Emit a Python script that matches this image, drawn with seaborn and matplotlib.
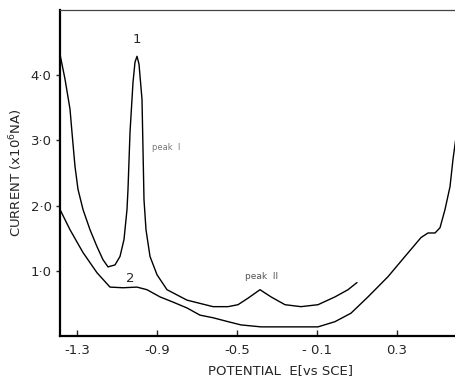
import matplotlib
matplotlib.use("Agg")
import matplotlib.pyplot as plt
import seaborn as sns
import pandas as pd

# Curve 1 (upper trace)
E1 = [-1.385, -1.36, -1.335, -1.325, -1.31, -1.295, -1.27, -1.235, -1.2, -1.17,
      -1.145, -1.11, -1.085, -1.065, -1.05, -1.045, -1.035, -1.02, -1.01, -1.0,
      -0.99, -0.975, -0.97, -0.965, -0.955, -0.935, -0.9, -0.85, -0.75, -0.62,
      -0.545, -0.495, -0.445, -0.385, -0.33, -0.26, -0.18, -0.095, -0.01, 0.055, 0.1]
I1 = [4.32, 3.94, 3.48, 3.12, 2.6, 2.25, 1.94, 1.63, 1.37, 1.17,
      1.06, 1.09, 1.22, 1.48, 1.94, 2.25, 3.12, 3.89, 4.2, 4.29,
      4.17, 3.63, 2.86, 2.09, 1.63, 1.22, 0.94, 0.71, 0.55, 0.45,
      0.45, 0.48, 0.58, 0.71, 0.6, 0.48, 0.45, 0.48, 0.6, 0.71, 0.82]

# Curve 2 (lower trace)
E2 = [-1.385, -1.335, -1.27, -1.2, -1.135, -1.07, -1.0, -0.95, -0.885, -0.82,
      -0.75, -0.685, -0.62, -0.545, -0.48, -0.38, -0.21, -0.095, -0.01, 0.07,
      0.155, 0.255, 0.34, 0.42, 0.455, 0.49, 0.515, 0.54, 0.565, 0.58, 0.595]
I2 = [1.94, 1.63, 1.28, 0.97, 0.75, 0.74, 0.75, 0.71, 0.6, 0.52,
      0.43, 0.32, 0.28, 0.22, 0.17, 0.14, 0.14, 0.14, 0.22, 0.35,
      0.6, 0.91, 1.22, 1.51, 1.58, 1.58, 1.66, 1.94, 2.29, 2.71, 3.05]

x_ticks = [-1.3, -0.9, -0.5, -0.1, 0.3]
x_tick_labels = ["-1.3", "-0.9", "-0.5", "- 0.1", "0.3"]
y_ticks = [1.0, 2.0, 3.0, 4.0]
y_tick_labels = ["1·0", "2·0", "3·0", "4·0"]

sns.set_style("ticks")
plt.rcParams['font.family'] = ['DejaVu Sans']

df1 = pd.DataFrame({"E": E1, "I": I1})
df2 = pd.DataFrame({"E": E2, "I": I2})

fig = plt.figure(figsize=(4.56, 3.83), dpi=100)
ax = fig.add_axes([60/456, 47/383, 396/456, 326/383])

sns.lineplot(data=df1, x="E", y="I", ax=ax, color="black", lw=1.0, sort=False, estimator=None)
sns.lineplot(data=df2, x="E", y="I", ax=ax, color="black", lw=1.0, sort=False, estimator=None)

ax.set_xlim(-1.385, 0.595)
ax.set_ylim(0, 5.0)
ax.set_xticks(x_ticks)
ax.set_xticklabels(x_tick_labels, fontsize=9.5)
ax.set_yticks(y_ticks)
ax.set_yticklabels(y_tick_labels, fontsize=9.5)
ax.tick_params(axis="x", direction="in", length=4, width=1, pad=6)
ax.tick_params(axis="y", direction="out", length=3, width=1, pad=3)

for s in ["left", "bottom"]:
    ax.spines[s].set_linewidth(1.6)
    ax.spines[s].set_color("black")
ax.spines["right"].set_visible(False)
ax.spines["top"].set_linewidth(0.9)
ax.spines["top"].set_color("#444444")

ax.set_xlabel("POTENTIAL  E[vs SCE]", fontsize=9.5, labelpad=6)
ax.xaxis.set_label_coords(0.556, -0.085)
ax.set_ylabel("CURRENT (x10$^{6}$NA)", fontsize=9.5, labelpad=4)

ax.text(-1.0, 4.45, "1", fontsize=9.5, ha="center", va="bottom")
ax.text(-1.035, 0.78, "2", fontsize=9.5, ha="center", va="bottom")
ax.text(-0.925, 2.89, "peak  I", fontsize=6, color="#777777", ha="left", va="center")
ax.text(-0.46, 0.91, "peak  II", fontsize=6.5, color="#555555", ha="left", va="center")

fig.savefig("out.png", dpi=100)
